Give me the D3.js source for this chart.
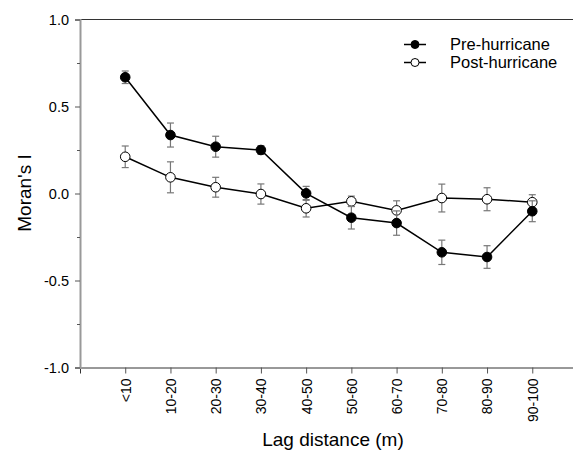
<!DOCTYPE html>
<html><head><meta charset="utf-8">
<script src="https://cdn.jsdelivr.net/npm/d3@7"></script>
<style>body{margin:0;background:#fff}svg{display:block;font-family:Arial,"Liberation Sans",sans-serif}</style>
</head><body><svg id="c" width="573" height="451"></svg>
<script>
const categories = ["<10","10-20","20-30","30-40","40-50","50-60","60-70","70-80","80-90","90-100"];
const preValues = [0.668,0.336,0.269,0.250,0.001,-0.139,-0.170,-0.338,-0.365,-0.102];
const preErr    = [0.036,0.069,0.060,0.025,0.040,0.065,0.070,0.070,0.065,0.060];
const postValues= [0.211,0.093,0.036,-0.003,-0.085,-0.045,-0.097,-0.026,-0.033,-0.050];
const postErr   = [0.062,0.089,0.057,0.058,0.050,0.030,0.055,0.080,0.066,0.043];
const yTicks = [-1.0,-0.5,0.0,0.5,1.0];
const yMinorTicks = [-0.75,-0.25,0.25,0.75];
const seriesNames = ["Pre-hurricane","Post-hurricane"];

const svg = d3.select("#c");
const x = d3.scaleLinear().domain([0, categories.length + 1]).range([80, 577.5]);
const y = d3.scaleLinear().domain([-1, 1]).range([367.5, 19.5]);

// frame lines
svg.append("line").attr("x1",80).attr("x2",573).attr("y1",y(1)).attr("y2",y(1)).attr("stroke","#333").attr("stroke-width",1);

// x axis
const xa = svg.append("g").attr("transform",`translate(0,${y(-1)})`)
  .call(d3.axisBottom(x).tickValues(d3.range(1,categories.length+1)).tickSize(6).tickFormat(""));
xa.select(".domain").attr("stroke","#333");
xa.selectAll(".tick line").attr("stroke","#555");
xa.selectAll(".tick").append("text")
  .attr("transform","rotate(-90)")
  .attr("x",-11).attr("y",0).attr("dy","0.35em")
  .attr("text-anchor","end").attr("fill","#000").attr("font-size",14)
  .text((d,i)=>categories[i]);

// y axis
const ya = svg.append("g").attr("transform","translate(80,0)")
  .call(d3.axisLeft(y).tickValues(yTicks).tickSize(5).tickFormat(d3.format(".1f")));
ya.select(".domain").attr("stroke","#999").attr("stroke-width",2);
ya.selectAll(".tick line").attr("stroke","#555");
ya.selectAll(".tick text").attr("font-size",14.5).attr("fill","#000").attr("x",-11).text(d=>d3.format(".1f")(d).replace("−","-"));
const ym = svg.append("g").attr("transform","translate(80,0)")
  .call(d3.axisLeft(y).tickValues(yMinorTicks).tickSize(3).tickFormat(""));
ym.select(".domain").remove();
ym.selectAll(".tick line").attr("stroke","#555");

// titles
svg.append("text").attr("transform","translate(31,193) rotate(-90)").attr("text-anchor","middle")
  .attr("font-size",19).text("Moran's I");
svg.append("text").attr("x",333).attr("y",446).attr("text-anchor","middle")
  .attr("font-size",19).text("Lag distance (m)");

function drawSeries(vals, errs, fill){
  const g = svg.append("g");
  const idx = d3.range(vals.length);
  idx.forEach(i=>{
    const cx = x(i+1), t = y(vals[i]+errs[i]), b = y(vals[i]-errs[i]);
    g.append("line").attr("x1",cx).attr("x2",cx).attr("y1",t).attr("y2",b).attr("stroke","#777").attr("stroke-width",1.2);
    g.append("line").attr("x1",cx-3.5).attr("x2",cx+3.5).attr("y1",t).attr("y2",t).attr("stroke","#777").attr("stroke-width",1.2);
    g.append("line").attr("x1",cx-3.5).attr("x2",cx+3.5).attr("y1",b).attr("y2",b).attr("stroke","#777").attr("stroke-width",1.2);
  });
  g.append("path").datum(idx)
    .attr("d", d3.line().x(i=>x(i+1)).y(i=>y(vals[i])))
    .attr("fill","none").attr("stroke","#000").attr("stroke-width",1.5);
  g.selectAll("circle").data(idx).join("circle")
    .attr("cx",i=>x(i+1)).attr("cy",i=>y(vals[i])).attr("r",4.8)
    .attr("fill",fill).attr("stroke","#000").attr("stroke-width",1);
}
drawSeries(postValues, postErr, "#fff");
drawSeries(preValues, preErr, "#000");

// legend
const leg = svg.append("g");
[["#000",44.5],["#fff",62.5]].forEach((d,k)=>{
  leg.append("line").attr("x1",404).attr("x2",426).attr("y1",d[1]).attr("y2",d[1]).attr("stroke","#000").attr("stroke-width",1.5);
  leg.append("circle").attr("cx",415).attr("cy",d[1]).attr("r",4).attr("fill",d[0]).attr("stroke","#000");
  leg.append("text").attr("x",450).attr("y",d[1]).attr("dy","0.35em").attr("font-size",16.5).text(seriesNames[k]);
});
</script></body></html>
